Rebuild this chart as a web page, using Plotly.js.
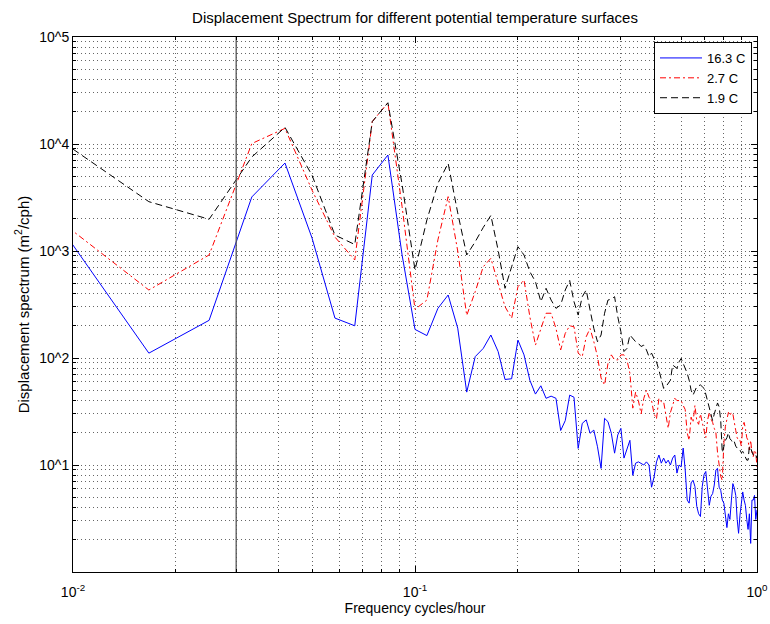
<!DOCTYPE html>
<html>
<head>
<meta charset="utf-8">
<script src="https://cdn.plot.ly/plotly-3.0.1.min.js"></script>
<style>
  html, body { margin: 0; padding: 0; background: #fff; }
  #chart { width: 770px; height: 624px; }
</style>
</head>
<body>
<div id="chart"></div>
<script>
// Spectral estimates at the harmonics of a 120-hour record (m^2/cph)
const recordHours = 120;

const spec16_3 = [
  2600, 111, 225, 3200, 6640, 1320, 236, 200, 5130, 7890,
  920, 185, 162, 291, 388, 190, 48, 103, 123, 164,
  115, 63, 64, 147, 107, 62, 46, 55, 42, 44,
  42, 21, 26, 45, 43, 14.3, 24.5, 26.4, 19.8, 21.2,
  14.8, 9.3, 27.3, 25.4, 19.8, 12.9, 19.1, 22, 11.6, 14.3,
  17, 8, 10.4, 10.7, 10.4, 10, 10.7, 10, 6.2, 7.7,
  10.7, 12.4, 10.4, 11.6, 10.4, 11.1, 10, 11.6, 12.4, 8.4,
  10, 9.6, 14.4, 9, 4.7, 4.4, 6.8, 7.2, 6.3, 4.1,
  3.5, 3.3, 6.3, 8.1, 8.7, 5.8, 4.2, 5.1, 5.4, 6.5,
  9.0, 9.3, 6.2, 5.8, 4.7, 4.4, 3.1, 2.6, 3.5, 3.1,
  4.7, 6.7, 6.1, 5.2, 3.1, 2.3, 3.4, 4.7, 5.6, 4.7,
  4.2, 3.1, 2.5, 3.5, 1.85, 4.7, 4.7, 5.2, 3.1, 3.8
];

const spec2_7 = [
  2410, 432, 918, 10100, 14000, 3700, 1350, 824, 16200, 24300,
  2600, 285, 348, 1270, 3220, 1000, 250, 417, 713, 854,
  499, 302, 235, 464, 536, 243, 132, 183, 262, 262,
  189, 119, 170, 200, 196, 111, 103, 158, 189, 142,
  103, 65, 56, 89, 107, 96, 96, 107, 107, 96,
  72, 34, 48, 40, 30, 42, 50, 43, 40, 30,
  27, 42, 39, 39, 30, 22, 31, 36, 42, 40,
  40, 40, 36, 33, 20, 17, 28, 25, 36, 26,
  24, 30, 25, 21, 18, 26, 31, 27, 25, 22,
  20, 13, 10, 7.8, 7.2, 16, 23, 26, 31, 29,
  31, 30, 26, 21, 18, 17, 17, 15, 23, 25,
  22, 18, 17, 13.8, 17, 13, 12, 13.8, 13, 9.6
];

const spec1_9 = [
  13400, 2890, 1980, 7560, 14300, 5100, 1410, 1150, 16200, 24300,
  4200, 664, 1950, 4290, 6600, 2270, 918, 1220, 1660, 2150,
  1020, 448, 713, 1097, 918, 641, 517, 336, 448, 348,
  291, 313, 432, 530, 336, 252, 374, 432, 281, 189,
  142, 164, 262, 348, 355, 374, 243, 176, 115, 123,
  164, 153, 142, 137, 128, 132, 119, 103, 111, 99,
  92, 77, 62, 52, 54, 58, 62, 86, 83, 80,
  92, 99, 89, 80, 72, 62, 50, 45, 50, 54,
  55, 56, 54, 52, 46, 40, 34, 29, 26, 30,
  35, 38, 35, 26, 13, 15, 17, 18, 20, 17.6,
  17, 16, 16.5, 15, 14.3, 13.8, 13.8, 13, 13.4, 12.4,
  12, 11.1, 11.1, 15, 14.3, 13, 12.4, 12, 12.4, 11.6
];

const seriesNames = ['16.3 C', '2.7 C', '1.9 C'];

// Marker line at 0.03 cycles/hour
const markerFreq = [0.03, 0.03];
const markerSpan = [1, 100000];

const xTickVals = [0.01, 0.1, 1];
const xTickText = ['10<sup>-2</sup>', '10<sup>-1</sup>', '10<sup>0</sup>'];
const yTickVals = [10, 100, 1000, 10000, 100000];
const yTickText = ['10^1', '10^2', '10^3', '10^4', '10^5'];

// harmonic frequencies of the record
const freq = spec16_3.map((_, i) => (i + 1) / recordHours);

function minorLogTicks(lo, hi) {
  const out = [];
  for (let d = lo; d < hi; d++) {
    for (let m = 2; m <= 9; m++) out.push(m * Math.pow(10, d));
  }
  return out;
}

const gridDash = '1px,3px';
const gridColor = 'rgba(0,0,0,0.6)';
const font = 'Liberation Sans, Arial, Helvetica, sans-serif';

const traces = [
  { x: freq, y: spec16_3, name: seriesNames[0], mode: 'lines',
    line: { color: '#0000ff', width: 1 } },
  { x: freq, y: spec2_7, name: seriesNames[1], mode: 'lines',
    line: { color: '#ff0000', width: 1, dash: '6px,3px,2px,3px' } },
  { x: freq, y: spec1_9, name: seriesNames[2], mode: 'lines',
    line: { color: '#000000', width: 1, dash: '7px,4px' } },
  { x: markerFreq, y: markerSpan, mode: 'lines', showlegend: false,
    hoverinfo: 'skip', line: { color: '#555555', width: 1.3 } }
];

const axisCommon = {
  type: 'log',
  showline: true, linecolor: '#000', linewidth: 1, mirror: 'allticks',
  ticks: 'inside', ticklen: 6, tickcolor: '#000', tickwidth: 1,
  showgrid: true, gridcolor: gridColor, griddash: gridDash, gridwidth: 1,
  zeroline: false,
  tickfont: { family: font, size: 14, color: '#000' }
};

const layout = {
  width: 770, height: 624,
  paper_bgcolor: '#fff', plot_bgcolor: '#fff',
  margin: { l: 73, r: 13, t: 37, b: 52 },
  font: { family: font, color: '#000' },
  title: {
    text: 'Displacement Spectrum for different potential temperature surfaces',
    font: { family: font, size: 15, color: '#000' },
    xref: 'paper', x: 0.5, xanchor: 'center',
    yref: 'container', y: 1 - 18 / 624, yanchor: 'middle'
  },
  xaxis: Object.assign({}, axisCommon, {
    range: [-2, 0],
    tickmode: 'array', tickvals: xTickVals, ticktext: xTickText,
    ticklabelstandoff: 7,
    minor: { tickmode: 'array', tickvals: minorLogTicks(-2, 0), ticks: 'inside',
      ticklen: 3, tickcolor: '#000', showgrid: true,
      gridcolor: gridColor, griddash: gridDash, gridwidth: 1 },
    title: { text: 'Frequency cycles/hour', font: { family: font, size: 14, color: '#000' }, standoff: 4 }
  }),
  yaxis: Object.assign({}, axisCommon, {
    range: [0, 5],
    tickmode: 'array', tickvals: yTickVals, ticktext: yTickText,
    minor: { tickmode: 'array', tickvals: minorLogTicks(0, 5), ticks: 'inside',
      ticklen: 3, tickcolor: '#000', showgrid: true,
      gridcolor: gridColor, griddash: gridDash, gridwidth: 1 },
    title: { text: 'Displacement spectrum (m<sup>2</sup>/cph)', font: { family: font, size: 15, color: '#000' }, standoff: 6 }
  }),
  legend: {
    x: 0.9927, xanchor: 'right', y: 0.9907, yanchor: 'top',
    bgcolor: '#fff', bordercolor: '#000', borderwidth: 1,
    font: { family: font, size: 13, color: '#000' },
    itemwidth: 42,
    tracegroupgap: 0
  },
  showlegend: true
};

Plotly.newPlot('chart', traces, layout, { displayModeBar: false, staticPlot: true });
</script>
</body>
</html>
